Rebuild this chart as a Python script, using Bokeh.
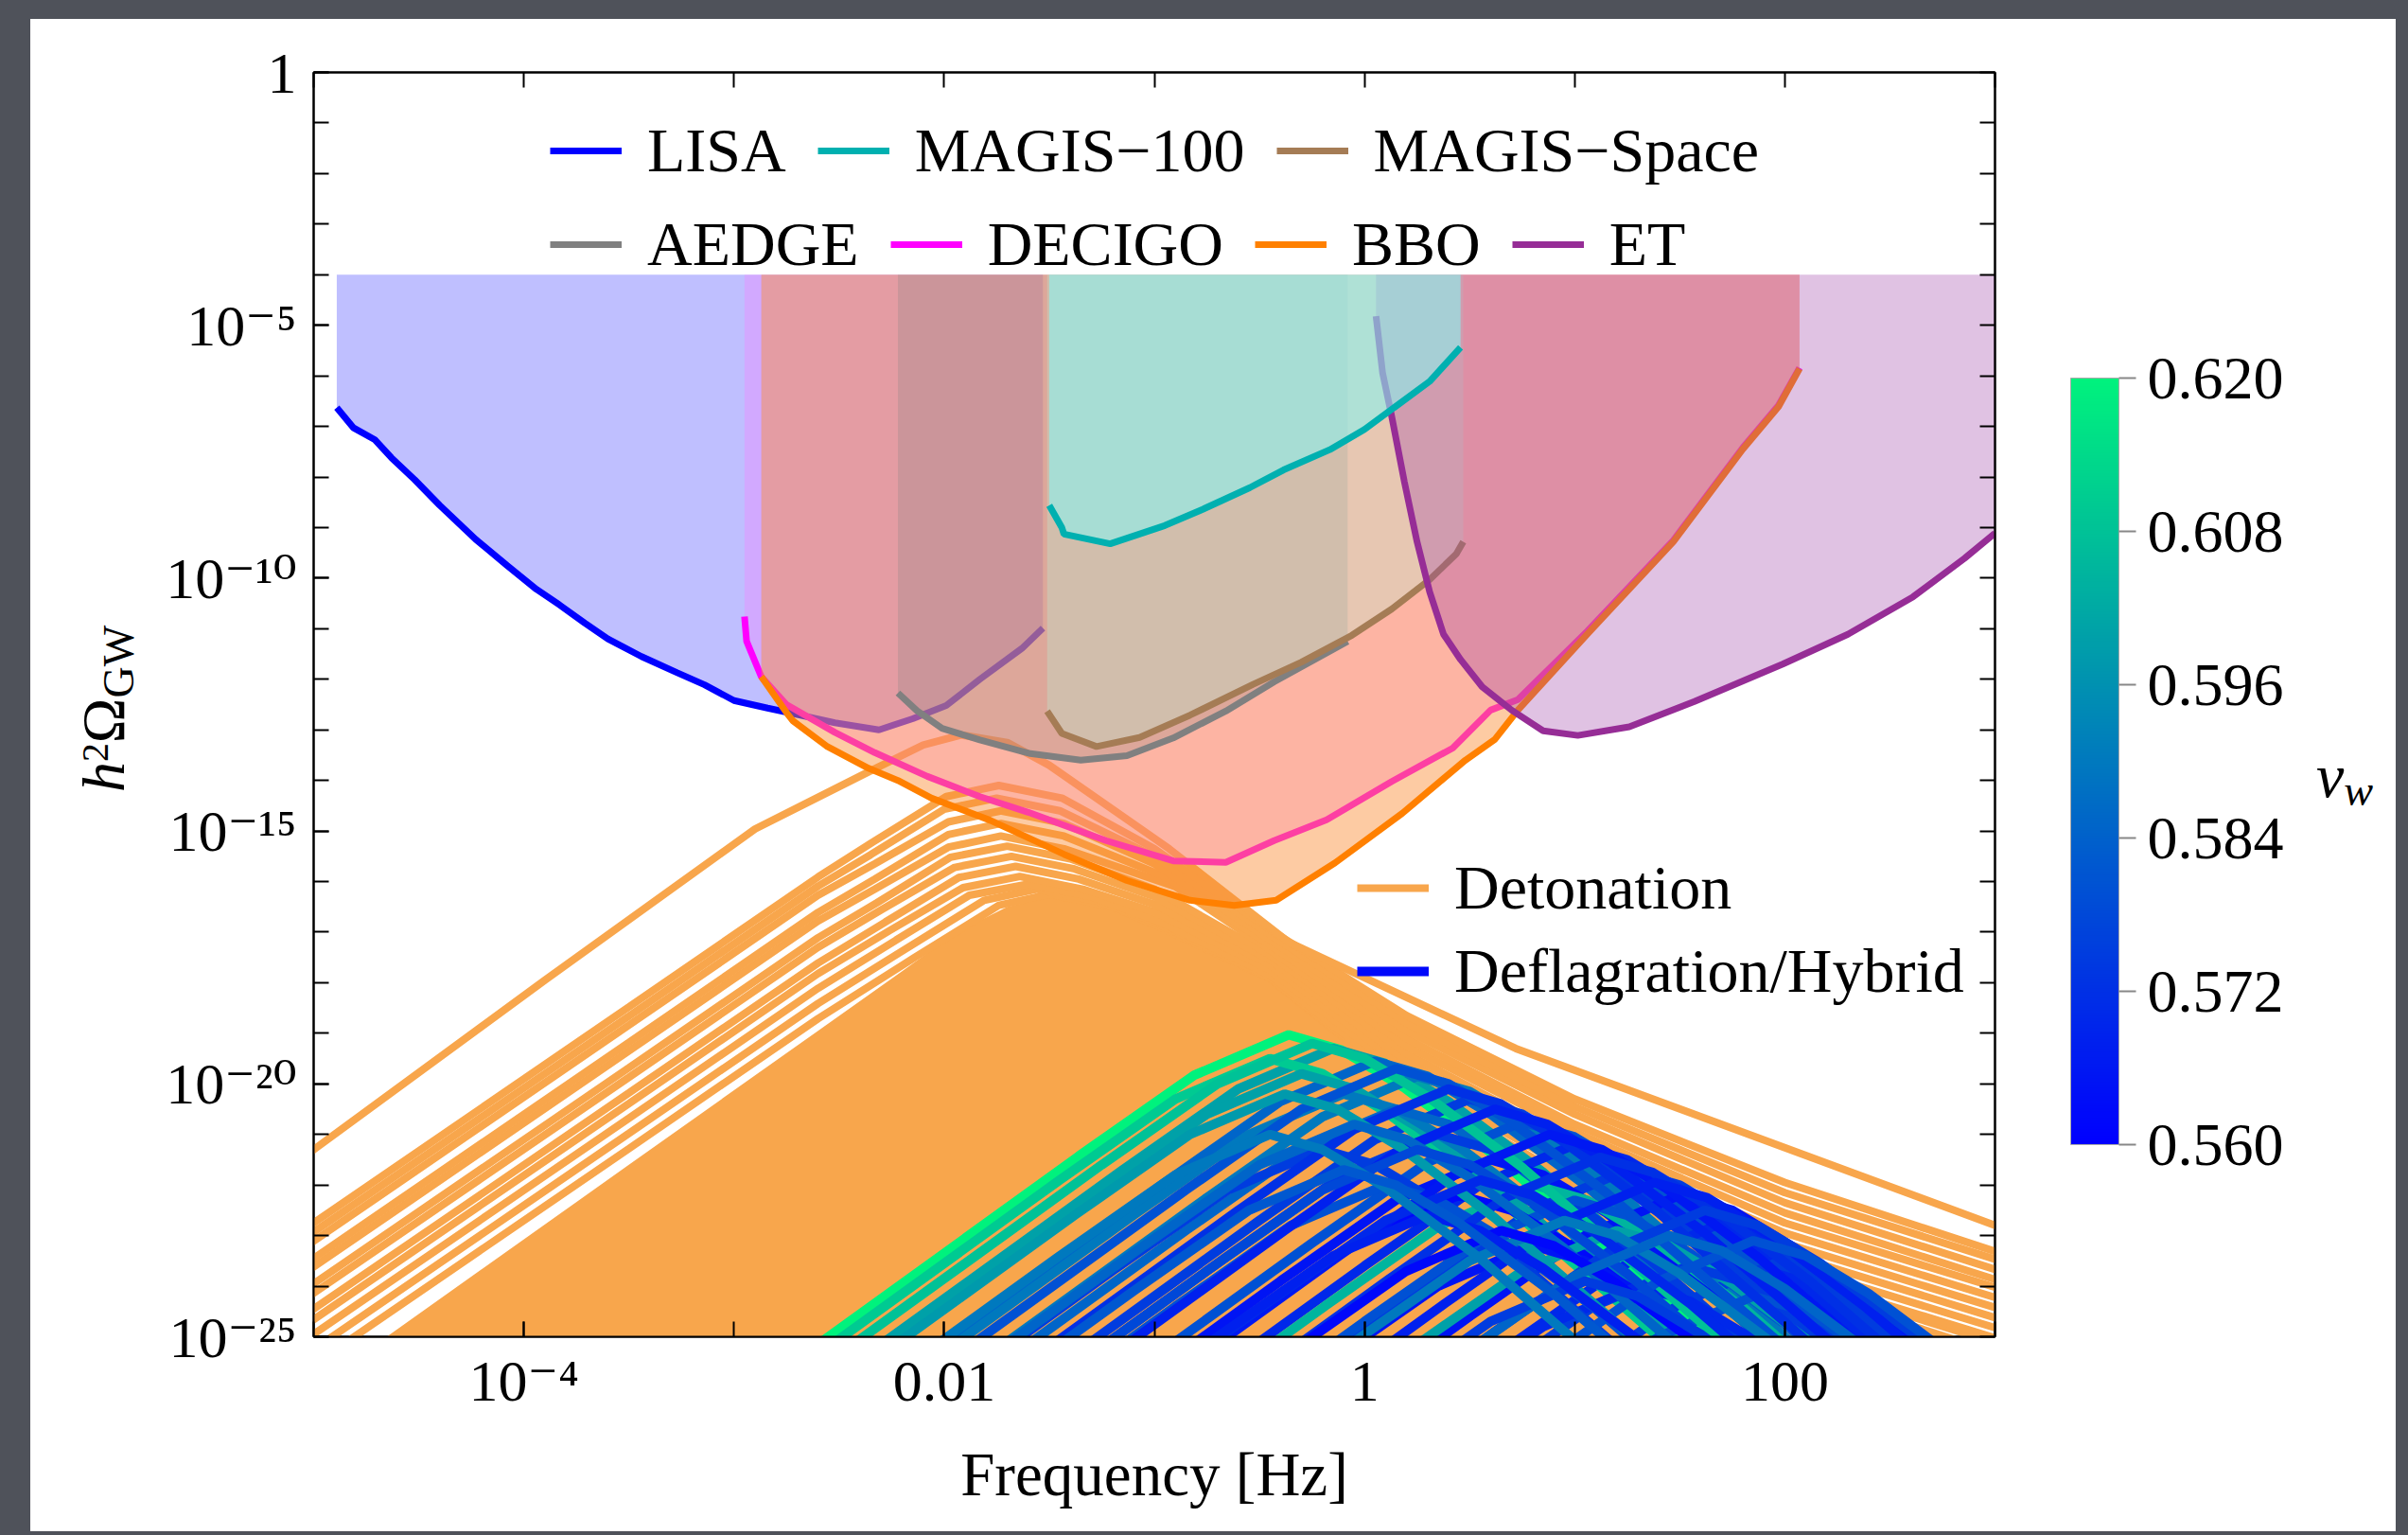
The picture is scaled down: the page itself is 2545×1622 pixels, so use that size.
import numpy as np
from bokeh.plotting import figure
from bokeh.models import (FixedTicker, LogAxis, Legend, LegendItem, ColorBar, Div,
                          LinearColorMapper, PrintfTickFormatter, ColumnDataSource, Range1d)
from bokeh.transform import linear_cmap
from bokeh.layouts import row
from bokeh.embed import file_html
from bokeh.resources import INLINE

FONT = "Liberation Serif"
TICK_FONT = "Liberation Serif, DejaVu Serif"
ORANGE = "#F8A64C"

# ---------------- axis ticks ----------------
X_ALL_EXP = [-5, -4, -3, -2, -1, 0, 1, 2, 3]
X_LABEL_EXP = [-4, -2, 0, 2]
X_LABELS = ["10⁻⁴", "0.01", "1", "100"]
Y_ALL_EXP = list(range(0, -26, -1))
Y_LABEL_EXP = [0, -5, -10, -15, -20, -25]
Y_LABELS = ["1", "10⁻⁵", "10⁻¹⁰", "10⁻¹⁵", "10⁻²⁰", "10⁻²⁵"]
CB_TICKS = [0.560, 0.572, 0.584, 0.596, 0.608, 0.620]

# ---------------- detector sensitivity curves (log10 f, log10 h2Omega) ----------------
LISA_LX = [-4.89, -4.81, -4.71, -4.63, -4.52, -4.40, -4.23, -4.08, -3.94, -3.83, -3.71, -3.60,
           -3.44, -3.27, -3.14, -3.00, -2.84, -2.75, -2.52, -2.31, -2.15, -1.99, -1.83, -1.63, -1.53]
LISA_LY = [-6.63, -7.03, -7.26, -7.62, -8.05, -8.56, -9.23, -9.75, -10.22, -10.53, -10.89, -11.20,
           -11.55, -11.87, -12.11, -12.42, -12.57, -12.65, -12.86, -13.00, -12.78, -12.52, -12.00, -11.39, -10.99]
DECIGO_LX = [-2.95, -2.94, -2.87, -2.75, -2.52, -2.33, -2.08, -1.83, -1.60, -1.23, -0.91, -0.66,
             -0.43, -0.18, 0.13, 0.42, 0.60, 0.73, 1.06, 1.47, 1.80, 1.97, 2.07]
DECIGO_LY = [-10.76, -11.25, -11.95, -12.50, -13.05, -13.45, -13.92, -14.32, -14.63, -15.19, -15.59, -15.62,
             -15.19, -14.78, -14.02, -13.36, -12.61, -12.40, -11.05, -9.25, -7.42, -6.58, -5.84]
BBO_LX = [-2.87, -2.75, -2.72, -2.56, -2.36, -2.22, -2.06, -1.78, -1.43, -1.13, -0.83, -0.62,
          -0.42, -0.14, 0.18, 0.48, 0.62, 0.73, 1.06, 1.47, 1.80, 1.97, 2.07]
BBO_LY = [-11.95, -12.66, -12.82, -13.32, -13.76, -14.00, -14.35, -14.79, -15.46, -15.98, -16.37, -16.47,
          -16.37, -15.63, -14.65, -13.60, -13.19, -12.61, -11.11, -9.28, -7.45, -6.61, -5.86]
AEDGE_LX = [-2.22, -2.13, -2.01, -1.83, -1.59, -1.35, -1.13, -0.91, -0.66, -0.43, -0.18, -0.08]
AEDGE_LY = [-12.27, -12.62, -12.97, -13.20, -13.47, -13.60, -13.51, -13.16, -12.63, -12.05, -11.48, -11.25]
MSPACE_LX = [-1.51, -1.44, -1.275, -1.07, -0.83, -0.53, -0.30, -0.06, 0.13, 0.31, 0.437, 0.47]
MSPACE_LY = [-12.63, -13.07, -13.33, -13.15, -12.71, -12.10, -11.66, -11.13, -10.61, -10.03, -9.52, -9.28]
M100_LX = [-1.50, -1.44, -1.43, -1.21, -0.95, -0.77, -0.545, -0.385, -0.165, 0.0, 0.14, 0.31, 0.457]
M100_LY = [-8.56, -9.00, -9.13, -9.32, -8.96, -8.64, -8.21, -7.86, -7.46, -7.06, -6.63, -6.11, -5.44]
ET_LX = [0.055, 0.086, 0.128, 0.19, 0.25, 0.31, 0.376, 0.457, 0.56, 0.70, 0.85, 1.015, 1.26, 1.57,
         1.99, 2.30, 2.61, 2.855, 3.0]
ET_LY = [-4.82, -5.94, -6.77, -8.10, -9.28, -10.27, -11.11, -11.61, -12.15, -12.61, -13.02, -13.11,
         -12.94, -12.44, -11.70, -11.11, -10.37, -9.61, -9.11]
SENS_TOP = -4.0

# ---------------- detonation spectra (orange) ----------------
DET_LX = [
    [-5.3, -5.0, -3.9, -2.9, -2.36, -2.1, -1.92, -1.7, -1.5, -0.93, -0.36, 0.72, 3.1],
    [-5.3, -5.0, -3.5, -2.6, -2.34, -1.99, -1.74, -1.44, -1.0, -0.45, 0.2, 1.0, 2.0, 3.1],
    [-5.3, -5.0, -3.5, -2.6, -2.35, -2.0, -1.75, -1.45, -1.0, -0.45, 0.2, 1.0, 2.0, 3.1],
    [-5.3, -5.0, -3.5, -2.6, -2.33, -1.98, -1.73, -1.43, -1.0, -0.45, 0.2, 1.0, 2.0, 3.1],
    [-5.3, -5.0, -3.5, -2.6, -2.33, -1.98, -1.73, -1.43, -0.95, -0.45, 0.2, 1.0, 2.0, 3.1],
    [-5.3, -5.0, -3.5, -2.6, -2.33, -1.98, -1.73, -1.43, -0.9, -0.45, 0.2, 1.0, 2.0, 3.1],
    [-5.3, -5.0, -3.5, -2.6, -2.32, -1.97, -1.7, -1.4, -1.0, -0.45, 0.2, 1.0, 2.0, 3.1],
    [-5.3, -5.0, -3.5, -2.6, -2.3, -1.95, -1.68, -1.38, -1.0, -0.45, 0.2, 1.0, 2.0, 3.1],
    [-5.3, -5.0, -3.5, -2.6, -2.28, -1.93, -1.66, -1.36, -1.0, -0.45, 0.2, 1.0, 2.0, 3.1],
    [-5.3, -5.0, -3.5, -2.6, -2.26, -1.91, -1.64, -1.34, -1.0, -0.45, 0.2, 1.0, 2.0, 3.1],
    [-5.3, -5.0, -3.5, -2.6, -2.23, -1.88, -1.6, -1.3, -1.0, -0.45, 0.2, 1.0, 2.0, 3.1],
    [-5.3, -5.0, -3.5, -2.6, -2.21, -1.81, -1.56, -1.26, -1.0, -0.45, 0.2, 1.0, 2.0, 3.1],
    [-5.3, -5.0, -3.5, -2.6, -2.14, -1.74, -1.5, -1.2, -1.0, -0.45, 0.2, 1.0, 2.0, 3.1],
]
DET_LY = [
    [-22.3, -21.3, -17.95, -14.96, -13.83, -13.3, -13.1, -13.25, -13.7, -15.35, -17.2, -19.3, -22.95],
    [-23.61, -22.75, -18.48, -15.91, -15.22, -14.32, -14.1, -14.35, -15.35, -16.95, -18.65, -20.3, -21.95, -23.45],
    [-23.79, -22.93, -18.66, -16.09, -15.47, -14.57, -14.35, -14.6, -15.5, -17.05, -18.8, -20.45, -22.15, -23.6],
    [-23.97, -23.11, -18.84, -16.27, -15.65, -14.82, -14.6, -14.85, -15.65, -17.15, -18.95, -20.6, -22.35, -23.8],
    [-24.31, -23.45, -19.18, -16.61, -15.95, -15.07, -14.85, -15.1, -15.9, -17.25, -19.1, -20.8, -22.55, -24.0],
    [-24.48, -23.62, -19.35, -16.78, -16.15, -15.32, -15.1, -15.35, -16.1, -17.35, -19.25, -20.95, -22.75, -24.15],
    [-24.81, -23.95, -19.68, -17.11, -16.42, -15.52, -15.3, -15.55, -16.15, -17.45, -19.4, -21.15, -22.95, -24.35],
    [-25.0, -24.14, -19.87, -17.3, -16.56, -15.72, -15.5, -15.75, -16.3, -17.55, -19.55, -21.35, -23.15, -24.55],
    [-25.31, -24.45, -20.18, -17.61, -16.8, -15.92, -15.7, -15.95, -16.45, -17.65, -19.7, -21.55, -23.35, -24.75],
    [-25.52, -24.66, -20.39, -17.82, -16.97, -16.12, -15.9, -16.15, -16.6, -17.75, -19.85, -21.75, -23.55, -24.95],
    [-25.81, -24.95, -20.68, -18.11, -17.16, -16.27, -16.05, -16.3, -16.75, -17.85, -20.0, -21.95, -23.75, -25.15],
    [-26.11, -25.25, -20.98, -18.41, -17.4, -16.37, -16.15, -16.4, -16.8, -17.9, -20.05, -22.0, -23.8, -25.2],
    [-26.41, -25.55, -21.28, -18.71, -17.5, -16.47, -16.25, -16.5, -16.85, -17.92, -20.08, -22.02, -23.82, -25.25],
]
# upper edge of the densely packed bundle of detonation spectra
DET_BUNDLE_LX = [-4.72, -3.5, -2.6, -2.2, -1.94, -1.7, -1.5, -1.3, -1.0, -0.45, 0.2, 1.0, 2.0, 3.05]
DET_BUNDLE_LY = [-25.2, -21.6, -18.95, -17.77, -17.0, -16.5, -16.3, -16.35, -16.85, -17.98, -20.12, -22.08, -23.9, -25.3]

# ---------------- deflagration / hybrid spectra (coloured by v_w) ----------------
DEF_LX = [
    [-2.96, -1.36, -0.81, -0.36, -0.11, 0.19, 0.64, 1.64],
    [-2.75, -1.15, -0.6, -0.15, 0.1, 0.4, 0.85, 1.85],
    [-2.55, -0.95, -0.4, 0.05, 0.3, 0.6, 1.05, 2.05],
    [-2.35, -0.75, -0.2, 0.25, 0.5, 0.8, 1.25, 2.25],
    [-2.1, -0.5, 0.05, 0.5, 0.75, 1.05, 1.5, 2.5],
    [-1.85, -0.25, 0.3, 0.75, 1.0, 1.3, 1.75, 2.75],
    [-1.6, 0.0, 0.55, 1.0, 1.25, 1.55, 2.0, 3.0],
    [-1.35, 0.25, 0.8, 1.25, 1.5, 1.8, 2.25, 3.25],
    [-1.1, 0.5, 1.05, 1.5, 1.75, 2.05, 2.5, 3.5],
    [-0.9, 0.7, 1.25, 1.7, 1.95, 2.25, 2.7, 3.7],
    [-0.65, 0.95, 1.5, 1.95, 2.2, 2.5, 2.95, 3.95],
    [-3.05, -1.45, -0.9, -0.45, -0.2, 0.1, 0.55, 1.55],
    [-2.9, -1.3, -0.75, -0.3, -0.05, 0.25, 0.7, 1.7],
    [-2.7, -1.1, -0.55, -0.1, 0.15, 0.45, 0.9, 1.9],
    [-2.45, -0.85, -0.3, 0.15, 0.4, 0.7, 1.15, 2.15],
    [-2.25, -0.65, -0.1, 0.35, 0.6, 0.9, 1.35, 2.35],
    [-2.0, -0.4, 0.15, 0.6, 0.85, 1.15, 1.6, 2.6],
    [-1.79, -0.19, 0.36, 0.81, 1.06, 1.36, 1.81, 2.81],
    [-1.6, 0.0, 0.55, 1.0, 1.25, 1.55, 2.0, 3.0],
    [-2.15, -0.55, 0.0, 0.45, 0.7, 1.0, 1.45, 2.45],
    [-1.4, 0.2, 0.75, 1.2, 1.45, 1.75, 2.2, 3.2],
    [-1.06, 0.54, 1.09, 1.54, 1.79, 2.09, 2.54, 3.54],
    [-1.8, -0.2, 0.35, 0.8, 1.05, 1.35, 1.8, 2.8],
    [-0.75, 0.85, 1.4, 1.85, 2.1, 2.4, 2.85, 3.85],
    [-1.3, 0.3, 0.85, 1.3, 1.55, 1.85, 2.3, 3.3],
    [-2.8, -1.2, -0.65, -0.2, 0.05, 0.35, 0.8, 1.8],
    [-2.5, -0.9, -0.35, 0.1, 0.35, 0.65, 1.1, 2.1],
    [-2.85, -1.25, -0.7, -0.25, 0.0, 0.3, 0.75, 1.75],
    [-2.45, -0.85, -0.3, 0.15, 0.4, 0.7, 1.15, 2.15],
    [-2.2, -0.6, -0.05, 0.4, 0.65, 0.95, 1.4, 2.4],
    [-1.98, -0.38, 0.17, 0.62, 0.87, 1.17, 1.62, 2.62],
    [-1.72, -0.12, 0.43, 0.88, 1.13, 1.43, 1.88, 2.88],
    [-1.48, 0.12, 0.67, 1.12, 1.37, 1.67, 2.12, 3.12],
    [-1.22, 0.38, 0.93, 1.38, 1.63, 1.93, 2.38, 3.38],
    [-0.98, 0.62, 1.17, 1.62, 1.87, 2.17, 2.62, 3.62],
    [-0.75, 0.85, 1.4, 1.85, 2.1, 2.4, 2.85, 3.85],
    [-2.98, -1.38, -0.83, -0.38, -0.13, 0.17, 0.62, 1.62],
    [-2.65, -1.05, -0.5, -0.05, 0.2, 0.5, 0.95, 1.95],
    [-2.35, -0.75, -0.2, 0.25, 0.5, 0.8, 1.25, 2.25],
    [-2.05, -0.45, 0.1, 0.55, 0.8, 1.1, 1.55, 2.55],
    [-1.65, -0.05, 0.5, 0.95, 1.2, 1.5, 1.95, 2.95],
    [-1.95, -0.35, 0.2, 0.65, 0.9, 1.2, 1.65, 2.65],
    [-1.15, 0.45, 1.0, 1.45, 1.7, 2.0, 2.45, 3.45],
    [-1.55, 0.05, 0.6, 1.05, 1.3, 1.6, 2.05, 3.05],
    [-2.3, -0.7, -0.15, 0.3, 0.55, 0.85, 1.3, 2.3],
    [-3.05, -1.45, -0.9, -0.45, -0.2, 0.1, 0.55, 1.55],
    [-2.7, -1.1, -0.55, -0.1, 0.15, 0.45, 0.9, 1.9],
]
DEF_LY = [
    [-26.23, -21.43, -19.83, -19.03, -19.33, -20.08, -21.48, -25.08],
    [-26.5, -21.7, -20.1, -19.3, -19.6, -20.35, -21.75, -25.35],
    [-26.75, -21.95, -20.35, -19.55, -19.85, -20.6, -22.0, -25.6],
    [-27.05, -22.25, -20.65, -19.85, -20.15, -20.9, -22.3, -25.9],
    [-27.5, -22.7, -21.1, -20.3, -20.6, -21.35, -22.75, -26.35],
    [-27.95, -23.15, -21.55, -20.75, -21.05, -21.8, -23.2, -26.8],
    [-28.4, -23.6, -22.0, -21.2, -21.5, -22.25, -23.65, -27.25],
    [-28.9, -24.1, -22.5, -21.7, -22.0, -22.75, -24.15, -27.75],
    [-29.4, -24.6, -23.0, -22.2, -22.5, -23.25, -24.65, -28.25],
    [-29.95, -25.15, -23.55, -22.75, -23.05, -23.8, -25.2, -28.8],
    [-30.75, -25.95, -24.35, -23.55, -23.85, -24.6, -26.0, -29.6],
    [-26.7, -21.9, -20.3, -19.5, -19.8, -20.55, -21.95, -25.55],
    [-27.0, -22.2, -20.6, -19.8, -20.1, -20.85, -22.25, -25.85],
    [-27.4, -22.6, -21.0, -20.2, -20.5, -21.25, -22.65, -26.25],
    [-27.7, -22.9, -21.3, -20.5, -20.8, -21.55, -22.95, -26.55],
    [-28.2, -23.4, -21.8, -21.0, -21.3, -22.05, -23.45, -27.05],
    [-28.7, -23.9, -22.3, -21.5, -21.8, -22.55, -23.95, -27.55],
    [-29.2, -24.4, -22.8, -22.0, -22.3, -23.05, -24.45, -28.05],
    [-29.5, -24.7, -23.1, -22.3, -22.6, -23.35, -24.75, -28.35],
    [-29.4, -24.6, -23.0, -22.2, -22.5, -23.25, -24.65, -28.25],
    [-30.1, -25.3, -23.7, -22.9, -23.2, -23.95, -25.35, -28.95],
    [-30.8, -26.0, -24.4, -23.6, -23.9, -24.65, -26.05, -29.65],
    [-30.4, -25.6, -24.0, -23.2, -23.5, -24.25, -25.65, -29.25],
    [-31.4, -26.6, -25.0, -24.2, -24.5, -25.25, -26.65, -30.25],
    [-31.2, -26.4, -24.8, -24.0, -24.3, -25.05, -26.45, -30.05],
    [-28.5, -23.7, -22.1, -21.3, -21.6, -22.35, -23.75, -27.35],
    [-29.2, -24.4, -22.8, -22.0, -22.3, -23.05, -24.45, -28.05],
    [-26.4, -21.6, -20.0, -19.2, -19.5, -20.25, -21.65, -25.25],
    [-26.9, -22.1, -20.5, -19.7, -20.0, -20.75, -22.15, -25.75],
    [-27.3, -22.5, -20.9, -20.1, -20.4, -21.15, -22.55, -26.15],
    [-27.7, -22.9, -21.3, -20.5, -20.8, -21.55, -22.95, -26.55],
    [-28.2, -23.4, -21.8, -21.0, -21.3, -22.05, -23.45, -27.05],
    [-28.65, -23.85, -22.25, -21.45, -21.75, -22.5, -23.9, -27.5],
    [-29.15, -24.35, -22.75, -21.95, -22.25, -23.0, -24.4, -28.0],
    [-29.7, -24.9, -23.3, -22.5, -22.8, -23.55, -24.95, -28.55],
    [-30.3, -25.5, -23.9, -23.1, -23.4, -24.15, -25.55, -29.15],
    [-27.4, -22.6, -21.0, -20.2, -20.5, -21.25, -22.65, -26.25],
    [-28.0, -23.2, -21.6, -20.8, -21.1, -21.85, -23.25, -26.85],
    [-28.5, -23.7, -22.1, -21.3, -21.6, -22.35, -23.75, -27.35],
    [-29.1, -24.3, -22.7, -21.9, -22.2, -22.95, -24.35, -27.95],
    [-29.9, -25.1, -23.5, -22.7, -23.0, -23.75, -25.15, -28.75],
    [-30.1, -25.3, -23.7, -22.9, -23.2, -23.95, -25.35, -28.95],
    [-30.2, -25.4, -23.8, -23.0, -23.3, -24.05, -25.45, -29.05],
    [-31.1, -26.3, -24.7, -23.9, -24.2, -24.95, -26.35, -29.95],
    [-29.8, -25.0, -23.4, -22.6, -22.9, -23.65, -25.05, -28.65],
    [-28.2, -23.4, -21.8, -21.0, -21.3, -22.05, -23.45, -27.05],
    [-28.9, -24.1, -22.5, -21.7, -22.0, -22.75, -24.15, -27.75],
]
DEF_VW = [0.620, 0.600, 0.585, 0.590, 0.575, 0.580, 0.570, 0.575, 0.565, 0.570, 0.575,
          0.610, 0.600, 0.590, 0.585, 0.575, 0.565, 0.605, 0.580, 0.562, 0.600, 0.575,
          0.565, 0.580, 0.570, 0.575, 0.580,
          0.608, 0.580, 0.572, 0.568, 0.566, 0.572, 0.568, 0.575, 0.580,
          0.598, 0.585, 0.578, 0.570, 0.590, 0.562, 0.585, 0.575, 0.568, 0.590, 0.582]

# ---------------- colour map for v_w ----------------
CB_LOW_RGB = (0, 0, 255)
CB_HIGH_RGB = (0, 242, 125)
PALETTE = ["#%02x%02x%02x" % tuple(int(round(a + (b - a) * i / 255.0)) for a, b in zip(CB_LOW_RGB, CB_HIGH_RGB))
           for i in range(256)]

Y_TITLE_HTML = ('<div style="position:relative;width:140px;height:1598px;background:white;">'
                '<div style="position:absolute;left:46px;top:817px;transform:rotate(-90deg);'
                'transform-origin:0 0;font-family:\'Liberation Serif\';font-size:64px;line-height:1;'
                'white-space:nowrap;color:#000;"><i>h</i>'
                '<span style="position:relative;top:-0.42em;font-size:0.62em;">2</span>Ω'
                '<span style="position:relative;top:0.22em;font-size:0.72em;">GW</span></div></div>')
CB_TITLE_HTML = ('<div style="position:relative;width:112px;height:1598px;background:white;">'
                 '<div style="position:absolute;left:28px;top:767px;font-family:\'Liberation Serif\';'
                 'font-size:66px;line-height:1;white-space:nowrap;color:#000;"><i>v</i>'
                 '<span style="position:relative;top:0.2em;font-size:0.7em;"><i>w</i></span></div></div>')


def lin(values):
    return [10.0 ** v for v in values]


# ================= main figure =================
p = figure(width=2248, height=1598, x_axis_type="log", y_axis_type="log",
           x_range=Range1d(1e-5, 1e3), y_range=Range1d(1e-25, 1.0),
           output_backend="svg", toolbar_location=None,
           min_border_left=158, min_border_right=312, min_border_top=56, min_border_bottom=206,
           background_fill_color="white", border_fill_color="white",
           outline_line_color="black", outline_line_width=2)
p.xgrid.visible = False
p.ygrid.visible = False

x_all = [10.0 ** k for k in X_ALL_EXP]
y_all = [10.0 ** k for k in Y_ALL_EXP]
p.xaxis.ticker = FixedTicker(ticks=[10.0 ** k for k in X_LABEL_EXP], minor_ticks=x_all)
p.xaxis.major_label_overrides = {10.0 ** k: lab for k, lab in zip(X_LABEL_EXP, X_LABELS)}
p.yaxis.ticker = FixedTicker(ticks=[10.0 ** k for k in Y_LABEL_EXP], minor_ticks=y_all)
p.yaxis.major_label_overrides = {10.0 ** k: lab for k, lab in zip(Y_LABEL_EXP, Y_LABELS)}

for ax in (p.xaxis[0], p.yaxis[0]):
    ax.major_tick_in = 16
    ax.major_tick_out = 0
    ax.minor_tick_in = 16
    ax.minor_tick_out = 0
    ax.major_tick_line_width = 2
    ax.minor_tick_line_width = 2
    ax.major_tick_line_color = "black"
    ax.minor_tick_line_color = "black"
    ax.axis_line_width = 2
    ax.axis_line_color = "black"
    ax.major_label_text_font = TICK_FONT
    ax.major_label_text_font_size = "62px"
    ax.major_label_text_color = "black"
p.xaxis.major_label_standoff = 12
p.yaxis.major_label_standoff = 18
p.xaxis.axis_label = "Frequency [Hz]"
p.xaxis.axis_label_text_font = FONT
p.xaxis.axis_label_text_font_size = "65px"
p.xaxis.axis_label_text_font_style = "normal"
p.xaxis.axis_label_text_color = "black"
p.xaxis.axis_label_standoff = 26

for loc, ticks in (("above", x_all), ("right", y_all)):
    mirror = LogAxis(ticker=FixedTicker(ticks=[], minor_ticks=ticks),
                     major_tick_in=0, major_tick_out=0, minor_tick_in=16, minor_tick_out=0,
                     minor_tick_line_width=2, minor_tick_line_color="black", axis_line_width=2,
                     major_label_text_font=FONT, major_label_text_font_size="10px")
    p.add_layout(mirror, loc)

# --- detonation spectra
p.varea(x=lin(DET_BUNDLE_LX), y1=[1e-27] * len(DET_BUNDLE_LX), y2=lin(DET_BUNDLE_LY),
        fill_color=ORANGE, fill_alpha=1.0)
r_det = p.multi_line(xs=[lin(c) for c in DET_LX[::-1]], ys=[lin(c) for c in DET_LY[::-1]],
                     line_color=ORANGE, line_width=8)

# --- deflagration / hybrid spectra
src_def = ColumnDataSource(dict(xs=[lin(c) for c in DEF_LX], ys=[lin(c) for c in DEF_LY], vw=DEF_VW))
r_def = p.multi_line(xs="xs", ys="ys", source=src_def,
                     line_color=linear_cmap("vw", PALETTE, 0.560, 0.620), line_width=10)

# --- sensitivity curves (fill to top, then line)
DETECTORS = [
    ("LISA", LISA_LX, LISA_LY, "#0000FF", "#0000FF", 0.25),
    ("DECIGO", DECIGO_LX, DECIGO_LY, "#FF00FF", "#FF78FF", 0.30),
    ("BBO", BBO_LX, BBO_LY, "#FF8000", "#FA8C32", 0.45),
    ("AEDGE", AEDGE_LX, AEDGE_LY, "#808080", "#808080", 0.25),
    ("MAGIS−Space", MSPACE_LX, MSPACE_LY, "#A57C55", "#B6F4D8", 0.30),
    ("ET", ET_LX, ET_LY, "#962D96", "#A046AA", 0.33),
    ("MAGIS−100", M100_LX, M100_LY, "#00B0B0", "#8BF1EE", 0.60),
]
line_r = {}
for name, lx, ly, lc, fc, fa in DETECTORS:
    p.varea(x=lin(lx), y1=lin(ly), y2=[10.0 ** SENS_TOP] * len(lx), fill_color=fc, fill_alpha=fa)
    line_r[name] = p.line(x=lin(lx), y=lin(ly), line_color=lc, line_width=7)

leg_kw = dict(label_text_font=FONT, label_text_font_size="66px", label_text_color="black",
              glyph_width=76, glyph_height=76, label_height=76, label_standoff=27,
              padding=0, margin=0, border_line_alpha=0, background_fill_alpha=0)
leg1 = Legend(items=[LegendItem(label=n, renderers=[line_r[n]]) for n in ["LISA", "MAGIS−100", "MAGIS−Space"]],
              orientation="horizontal", location=(250, 1215), spacing=33, **leg_kw)
leg2 = Legend(items=[LegendItem(label=n, renderers=[line_r[n]]) for n in ["AEDGE", "DECIGO", "BBO", "ET"]],
              orientation="horizontal", location=(250, 1116), spacing=33, **leg_kw)
leg3 = Legend(items=[LegendItem(label="Detonation", renderers=[r_det], index=0),
                     LegendItem(label="Deflagration/Hybrid", renderers=[r_def], index=19)],
              orientation="vertical", location=(1103, 348), spacing=12, **leg_kw)
for lg in (leg1, leg2, leg3):
    p.add_layout(lg)

# ================= colour bar =================
cmap = LinearColorMapper(palette=PALETTE, low=0.560, high=0.620)
cbar = ColorBar(color_mapper=cmap, ticker=FixedTicker(ticks=CB_TICKS),
                formatter=PrintfTickFormatter(format="%.3f"), orientation="vertical",
                location=(1857, 203), width=51, height=810, padding=0, margin=0,
                bar_line_color="#aaaaaa", bar_line_width=1,
                major_tick_out=18, major_tick_in=0, major_tick_line_color="#888888", major_tick_line_width=2,
                minor_tick_line_color=None, label_standoff=12,
                major_label_text_font=FONT, major_label_text_font_size="64px", major_label_text_color="black",
                background_fill_alpha=0, border_line_color=None)
p.add_layout(cbar)

y_title = Div(text=Y_TITLE_HTML, width=140, height=1598, margin=0, styles={"background-color": "white"})
cb_title = Div(text=CB_TITLE_HTML, width=112, height=1598, margin=0, styles={"background-color": "white"})

panel = row(y_title, p, cb_title, styles={"background-color": "white"})
layout = row(panel, styles={"background-color": "#4f525a", "padding-left": "32px", "padding-top": "20px",
                            "padding-right": "13px", "padding-bottom": "4px"})

open("out.html", "w").write(file_html(layout, INLINE))
